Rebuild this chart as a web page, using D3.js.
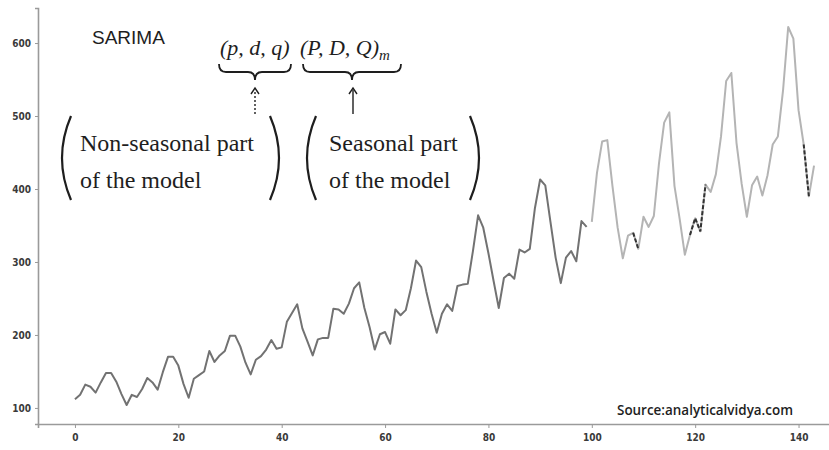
<!DOCTYPE html>
<html>
<head>
<meta charset="utf-8">
<script src="https://cdn.jsdelivr.net/npm/d3@7"></script>
<style>
  body { margin: 0; background: #fff; }
  svg { display: block; }
  .tick text { font-family: "DejaVu Sans", sans-serif; font-stretch: condensed; font-weight: bold; font-size: 10px; fill: #3a3a3a; }
</style>
</head>
<body>
<svg id="chart"></svg>
<script>
// monthly passengers, index 0..143
const passengers = [
  112, 118, 132, 129, 121, 135, 148, 148, 136, 119, 104, 118,
  115, 126, 141, 135, 125, 149, 170, 170, 158, 133, 114, 140,
  145, 150, 178, 163, 172, 178, 199, 199, 184, 162, 146, 166,
  171, 180, 193, 181, 183, 218, 230, 242, 209, 191, 172, 194,
  196, 196, 236, 235, 229, 243, 264, 272, 237, 211, 180, 201,
  204, 188, 235, 227, 234, 264, 302, 293, 259, 229, 203, 229,
  242, 233, 267, 269, 270, 315, 364, 347, 312, 274, 237, 278,
  284, 277, 317, 313, 318, 374, 413, 405, 355, 306, 271, 306,
  315, 301, 356, 348, 355, 422, 465, 467, 404, 347, 305, 336,
  340, 318, 362, 348, 363, 435, 491, 505, 404, 359, 310, 337,
  360, 342, 406, 396, 420, 472, 548, 559, 463, 407, 362, 405,
  417, 391, 419, 461, 472, 535, 622, 606, 508, 461, 390, 432
];
const trainEnd = 99;          // last index of the training part
const dashedSpans = [[108, 109], [119, 122], [141, 142]];
const xTicks = [0, 20, 40, 60, 80, 100, 120, 140];
const yTicks = [100, 200, 300, 400, 500, 600];

const width = 829, height = 450;
const svg = d3.select("#chart").attr("width", width).attr("height", height);

const pts = passengers.map((v, i) => ({i, v}));

const x = d3.scaleLinear().domain([-7.15, 150.15]).range([38, 851]);
const y = d3.scaleLinear().domain([78, 648]).range([424, 8]);

// axes
const xAxis = svg.append("g")
    .attr("transform", `translate(0,${y(78)})`)
    .call(d3.axisBottom(x).tickValues(xTicks).tickSize(4).tickPadding(6));
const yAxis = svg.append("g")
    .attr("transform", `translate(${x(-7.15)},0)`)
    .call(d3.axisLeft(y).tickValues(yTicks).tickSize(3).tickPadding(4));
[xAxis, yAxis].forEach(a => {
  a.select(".domain").attr("stroke", "#9a9a9a").attr("stroke-width", 1.6);
  a.selectAll(".tick line").attr("stroke", "#999");
});

const line = d3.line().x(d => x(d.i)).y(d => y(d.v));

// training part
svg.append("path")
    .datum(pts.filter(d => d.i <= trainEnd))
    .attr("d", line)
    .attr("fill", "none")
    .attr("stroke", "#727272")
    .attr("stroke-width", 2)
    .attr("stroke-linejoin", "round");

// test part
svg.append("path")
    .datum(pts.filter(d => d.i > trainEnd))
    .attr("d", line)
    .attr("fill", "none")
    .attr("stroke", "#b4b4b4")
    .attr("stroke-width", 2)
    .attr("stroke-linejoin", "round");

// dark dashed bits
dashedSpans.forEach(([a, b]) => {
  svg.append("path")
      .datum(pts.filter(d => d.i >= a && d.i <= b))
      .attr("d", line)
      .attr("fill", "none")
      .attr("stroke", "#333")
      .attr("stroke-width", 2)
      .attr("stroke-dasharray", "4,2");
});

// ---- SARIMA annotation ----
const ann = svg.append("g").attr("fill", "#1e1e1e");

ann.append("text")
    .attr("x", 92).attr("y", 44)
    .attr("font-family", "Liberation Sans, Arial, sans-serif")
    .attr("font-size", 19)
    .text("SARIMA");

const serif = "Liberation Serif, Times New Roman, serif";

ann.append("text")
    .attr("x", 220).attr("y", 55)
    .attr("font-family", serif).attr("font-style", "italic")
    .attr("font-size", 22)
    .text("(p, d, q)");

const pdq = ann.append("text")
    .attr("x", 300).attr("y", 55)
    .attr("font-family", serif).attr("font-style", "italic")
    .attr("font-size", 22);
pdq.append("tspan").text("(P, D, Q)");
pdq.append("tspan").attr("dy", 5).attr("font-size", 15).text("m");

function underbrace(x1, x2, y0, h) {
  const m = (x1 + x2) / 2, r = 7, yc = y0 + h / 2;
  return `M${x1},${y0} Q${x1},${yc} ${x1 + r},${yc} L${m - r},${yc} Q${m},${yc} ${m},${y0 + h}` +
         ` Q${m},${yc} ${m + r},${yc} L${x2 - r},${yc} Q${x2},${yc} ${x2},${y0}`;
}
ann.append("path").attr("d", underbrace(219, 291, 64, 16))
    .attr("fill", "none").attr("stroke", "#1e1e1e").attr("stroke-width", 1.8);
ann.append("path").attr("d", underbrace(303, 401, 64, 16))
    .attr("fill", "none").attr("stroke", "#1e1e1e").attr("stroke-width", 1.8);

// arrows
function upArrow(cx, y1, y2, dashed) {
  ann.append("line").attr("x1", cx).attr("x2", cx).attr("y1", y1).attr("y2", y2 + 2)
      .attr("stroke", "#1e1e1e").attr("stroke-width", 1.4)
      .attr("stroke-dasharray", dashed ? "2,2" : null);
  ann.append("path")
      .attr("d", `M${cx - 4},${y2 + 6} L${cx},${y2} L${cx + 4},${y2 + 6}`)
      .attr("fill", "none").attr("stroke", "#1e1e1e").attr("stroke-width", 1.4);
}
upArrow(255, 114, 88, true);
upArrow(353, 114, 88, false);

// big parentheses
function paren(px, y1, y2, dir) {
  const mid = (y1 + y2) / 2;
  return `M${px},${y1} Q${px - 18 * dir},${mid} ${px},${y2}`;
}
[71, 270, 316, 470].forEach((px, k) => {
  const dir = (k % 2 === 0) ? 1 : -1;
  ann.append("path").attr("d", paren(px, 116, 200, dir))
      .attr("fill", "none").attr("stroke", "#1e1e1e").attr("stroke-width", 2.2);
});

const boxes = [
  {x: 80, lines: ["Non-seasonal part", "of the model"]},
  {x: 329, lines: ["Seasonal part", "of the model"]}
];
boxes.forEach(b => {
  b.lines.forEach((t, j) => {
    ann.append("text")
        .attr("x", b.x).attr("y", 151 + j * 37)
        .attr("font-family", serif)
        .attr("font-size", 24)
        .text(t);
  });
});

// source credit
svg.append("text")
    .attr("x", 617).attr("y", 415)
    .attr("font-family", "Open Sans, sans-serif")
    .attr("font-size", 15)
    .attr("font-weight", 600)
    .attr("fill", "#1e1e1e")
    .attr("textLength", 176)
    .attr("lengthAdjust", "spacingAndGlyphs")
    .text("Source:analyticalvidya.com");
</script>
</body>
</html>
